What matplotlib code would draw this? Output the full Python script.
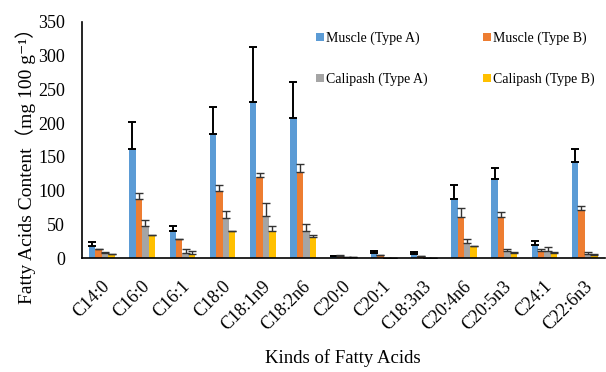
import numpy as np
import matplotlib
matplotlib.use("Agg")
import matplotlib.pyplot as plt
import matplotlib.transforms as mtransforms

categories = ["C14:0", "C16:0", "C16:1", "C18:0", "C18:1n9", "C18:2n6", "C20:0",
              "C20:1", "C18:3n3", "C20:4n6", "C20:5n3", "C24:1", "C22:6n3"]
series_names = ["Muscle (Type A)", "Muscle (Type B)", "Calipash (Type A)", "Calipash (Type B)"]
muscle_a = [18, 162, 40, 184, 231, 208, 3, 7.5, 6.5, 88, 117, 19, 142]
muscle_a_err = [6, 39, 7, 40, 82, 53, 1, 4, 3.5, 21, 16, 7, 20]
muscle_b = [13, 87, 28, 99, 120, 127, 3.5, 4.5, 3.5, 61, 61, 11, 71]
muscle_b_err = [1, 9, 1, 10, 6, 13, 1, 0.5, 0.3, 14, 7, 2, 7]
calipash_a = [8.5, 47, 8.5, 59, 62, 41, 2, 0, 0, 22, 11, 11, 7]
calipash_a_err = [1, 10, 5, 11, 20, 10, 0.5, 0, 0, 7, 2, 5, 2.5]
calipash_b = [6, 34, 6.5, 40, 40, 31.5, 2, 0, 0, 18, 8.5, 8.5, 5.5]
calipash_b_err = [0.5, 0.5, 4, 0.5, 7, 3.5, 0.3, 0, 0, 0.5, 1.5, 0.5, 0.5]

values = [muscle_a, muscle_b, calipash_a, calipash_b]
errors = [muscle_a_err, muscle_b_err, calipash_a_err, calipash_b_err]
colors = ["#5B9BD5", "#ED7D31", "#A5A5A5", "#FFC000"]

plt.rcParams['font.family'] = ['Liberation Serif', 'DejaVu Serif', 'Noto Sans CJK SC']

fig = plt.figure(figsize=(6.06, 3.72), dpi=100)
ax = fig.add_axes([0.135, 0.3057, 0.863, 0.6363])

x = np.arange(len(categories))
w = 0.16
handles = []
for i in range(4):
    ecol = 'black' if i == 0 else '#333333'
    b = ax.bar(x + (i - 1.5) * w, values[i], width=w, color=colors[i],
               yerr=[np.zeros(len(x)), errors[i]],
               error_kw=dict(ecolor=ecol, elinewidth=1.4 if i == 0 else 1.0,
                             capsize=3, capthick=1.4 if i == 0 else 1.0),
               label=series_names[i], zorder=2)
    handles.append(b)

ax.set_xlim(-0.5, len(categories) - 0.5)
ax.set_ylim(0, 350)
ax.set_yticks(np.arange(0, 351, 50))
ax.set_xticks(x)
ax.set_xticklabels(categories, rotation=45, ha='right', va='center',
                   rotation_mode='anchor', fontsize=13)
ax.tick_params(axis='x', length=0, pad=14)
ax.tick_params(axis='y', length=0, pad=12, labelsize=13)
offset = mtransforms.ScaledTranslation(5 / 100, -6 / 100, fig.dpi_scale_trans)
for lab in ax.get_xticklabels():
    lab.set_transform(lab.get_transform() + offset)
for s in ['top', 'right']:
    ax.spines[s].set_visible(False)
ax.spines['left'].set_linewidth(1.2)
ax.spines['bottom'].set_linewidth(1.2)

ax.set_ylabel("Fatty Acids Content（mg 100 g⁻¹）", fontsize=14)
ax.yaxis.set_label_coords(-56 / 523, 0.41)
ax.yaxis.label.set_va('center')
ax.set_xlabel("Kinds of Fatty Acids", fontsize=13.5)
ax.xaxis.set_label_coords(0.5, -0.42)
ax.xaxis.label.set_va('center')

order = [0, 2, 1, 3]
leg = ax.legend([handles[k] for k in order], [series_names[k] for k in order],
                ncol=2, loc='upper left', bbox_to_anchor=(0.43, 1.0),
                frameon=False, fontsize=10, handlelength=0.55, handleheight=0.55,
                handletextpad=0.15, labelspacing=2.0, columnspacing=4.0,
                borderaxespad=0.3)

fig.savefig("out.png", dpi=100)
